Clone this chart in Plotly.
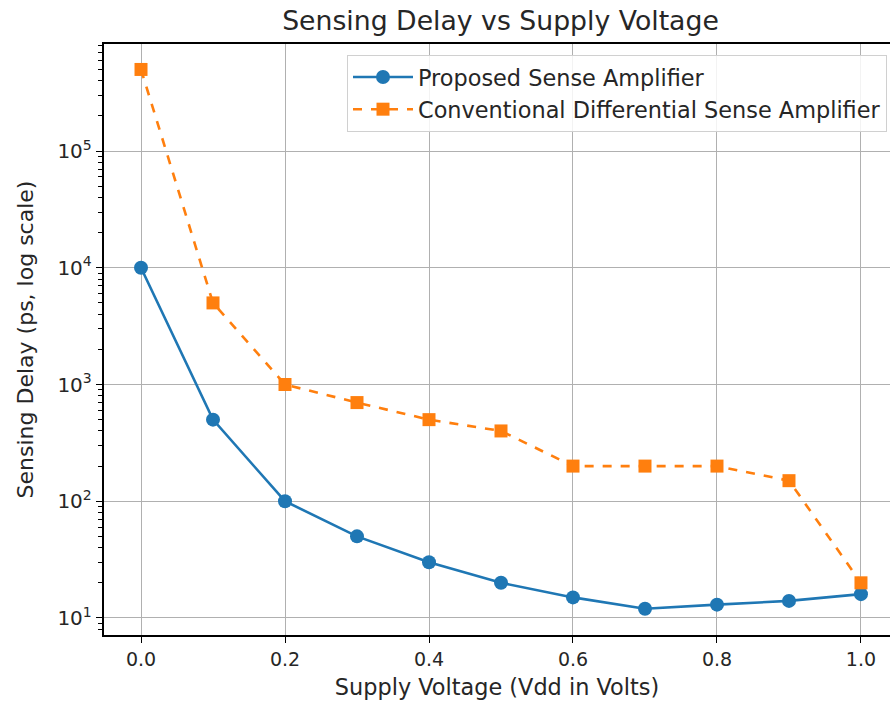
import plotly.graph_objects as go

# Supply voltage sweep (V)
vdd = [0.0, 0.1, 0.2, 0.3, 0.4, 0.5, 0.6, 0.7, 0.8, 0.9, 1.0]

# Sensing delay in ps
proposed_delay = [10000, 500, 100, 50, 30, 20, 15, 12, 13, 14, 16]
conventional_delay = [500000, 5000, 1000, 700, 500, 400, 200, 200, 200, 150, 20]

series_names = ["Proposed Sense Amplifier", "Conventional Differential Sense Amplifier"]
x_ticks = [0.0, 0.2, 0.4, 0.6, 0.8, 1.0]
x_tick_text = ["0.0", "0.2", "0.4", "0.6", "0.8", "1.0"]
y_ticks = [10, 100, 1000, 10000, 100000]
y_tick_text = ["10<sup>1</sup>", "10<sup>2</sup>", "10<sup>3</sup>", "10<sup>4</sup>", "10<sup>5</sup>"]

# minor log ticks at 2..9 of each decade
y_minor = [m * d for d in [1, 10, 100, 1000, 10000, 100000] for m in range(2, 10)]

FONT = "DejaVu Sans"
TEXT = "#262626"
Y_RANGE = [0.854, 5.917]

fig = go.Figure()
fig.add_trace(go.Scatter(
    x=vdd, y=proposed_delay, name=series_names[0],
    mode="lines+markers",
    line=dict(color="#1f77b4", width=2.6),
    marker=dict(symbol="circle", size=14, color="#1f77b4"),
))
fig.add_trace(go.Scatter(
    x=vdd, y=conventional_delay, name=series_names[1],
    mode="lines+markers",
    line=dict(color="#ff7f0e", width=2.6, dash="dash"),
    marker=dict(symbol="square", size=13, color="#ff7f0e"),
))

fig.update_layout(
    width=890, height=704,
    margin=dict(l=104, r=0, t=44, b=69),
    paper_bgcolor="white", plot_bgcolor="white",
    font=dict(family=FONT, size=22, color=TEXT),
    title=dict(text="Sensing Delay vs Supply Voltage", x=(104 + 897) / 2 / 890,
               xanchor="center", y=1 - 21 / 704, yanchor="middle",
               font=dict(size=26.7, color=TEXT)),
    showlegend=True,
    legend=dict(x=(887 - 104) / (890 - 104), xanchor="right",
                y=(635 - 55) / (635 - 44), yanchor="top",
                bgcolor="rgba(255,255,255,0.85)", bordercolor="#d0d0d0", borderwidth=1,
                font=dict(size=22.4, color=TEXT), itemwidth=60, tracegroupgap=2),
)

fig.update_xaxes(
    range=[-0.0514, 1.0403],
    tickmode="array", tickvals=x_ticks, ticktext=x_tick_text,
    showgrid=True, gridcolor="#b0b0b0", gridwidth=1,
    showline=True, linecolor="black", linewidth=1.5, mirror=True,
    ticks="outside", ticklen=6, tickwidth=1.2, tickcolor="black",
    zeroline=False,
    title=dict(text="Supply Voltage (Vdd in Volts)", font=dict(size=22.4, color=TEXT), standoff=11),
    tickfont=dict(size=19, color=TEXT),
)

fig.update_yaxes(
    type="log",
    range=Y_RANGE,
    tickmode="array", tickvals=y_ticks, ticktext=y_tick_text,
    showgrid=True, gridcolor="#b0b0b0", gridwidth=1,
    showline=True, linecolor="black", linewidth=1.5, mirror=False,
    ticks="outside", ticklen=6.5, tickwidth=1.2, tickcolor="black",
    minor=dict(tickmode="array", tickvals=y_minor, ticks="outside", ticklen=4,
               tickcolor="black", tickwidth=1, showgrid=False),
    zeroline=False,
    title=dict(text="Sensing Delay (ps, log scale)", font=dict(size=22, color=TEXT), standoff=18),
    tickfont=dict(size=20, color=TEXT),
)

fig.write_html("out.html")
